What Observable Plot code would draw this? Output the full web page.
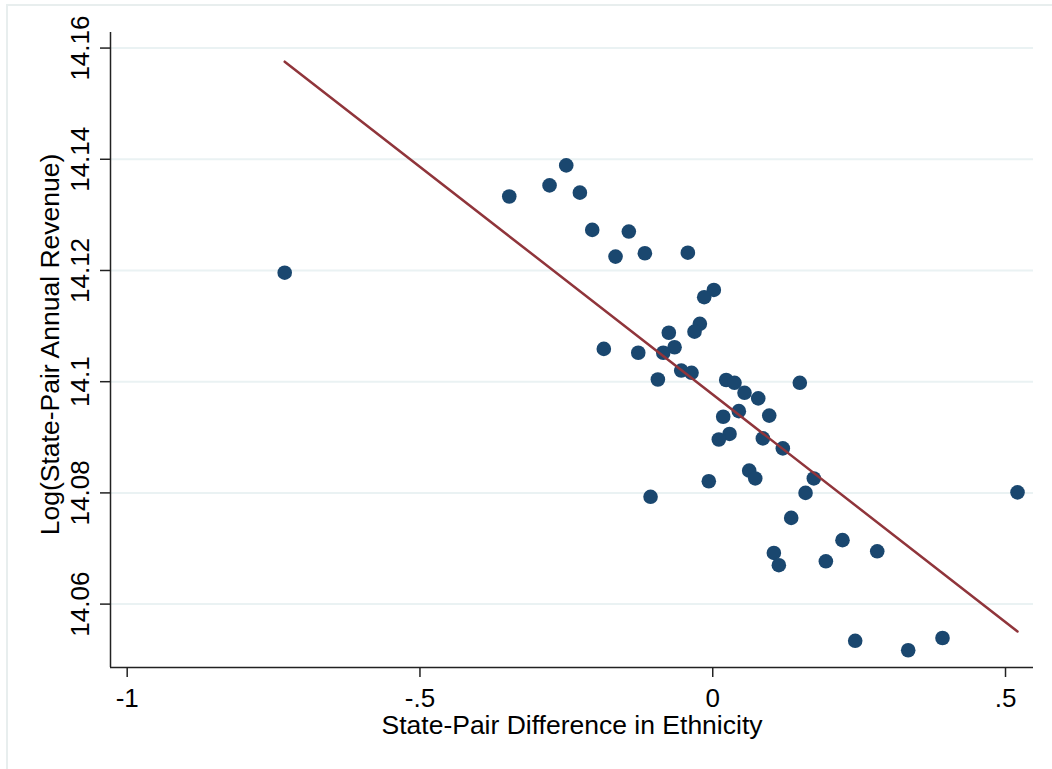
<!DOCTYPE html>
<html><head><meta charset="utf-8">
<script src="https://cdn.jsdelivr.net/npm/d3@7"></script>
<script src="https://cdn.jsdelivr.net/npm/@observablehq/plot@0.6"></script>
<style>
html,body{margin:0;padding:0;background:#fff;}
#wrap{position:relative;width:1052px;height:769px;overflow:hidden;}
#frame{position:absolute;left:6px;top:4px;width:1100px;height:800px;border-left:2px solid #e8eeee;border-top:2px solid #e8eeee;pointer-events:none;}
#wrap svg{position:absolute;left:0;top:0;}
</style></head>
<body><div id="wrap"><div id="frame"></div></div>
<script>
const ethnicityDiff = [-0.731, -0.3475, -0.2787, -0.2502, -0.2269, -0.2058, -0.1433, -0.1660, -0.1159, -0.0425,
  0.0019, -0.0146, -0.0220, -0.0311, -0.0750, -0.0652, -0.0845, -0.1272, -0.1860, -0.0937,
  -0.0538, -0.0362, 0.0230, 0.0372, 0.0543, 0.0777, 0.1487, 0.0179, 0.0446, 0.0965,
  0.0287, 0.0104, 0.0856, 0.1197, 0.0623, 0.0726, -0.0067, -0.1062, 0.1726, 0.1585,
  0.1340, 0.2216, 0.1044, 0.1129, 0.1932, 0.2809, 0.5205, 0.2433, 0.3338, 0.3924];
const logRevenue = [14.1196, 14.1333, 14.1353, 14.1389, 14.1340, 14.1273, 14.1270, 14.1225, 14.1231, 14.1232,
  14.1165, 14.1152, 14.1104, 14.1090, 14.1088, 14.1062, 14.1052, 14.1052, 14.1059, 14.1004,
  14.1020, 14.1016, 14.1003, 14.0998, 14.0980, 14.0970, 14.0998, 14.0937, 14.0947, 14.0939,
  14.0906, 14.0896, 14.0898, 14.0880, 14.0840, 14.0826, 14.0821, 14.0793, 14.0826, 14.0800,
  14.0755, 14.0715, 14.0692, 14.0670, 14.0677, 14.0695, 14.0801, 14.0534, 14.0517, 14.0539];
// fitted line (at its two ends)
const fitX = [-0.731, 0.5205];
const fitY = [14.15755, 14.05509];
const xTicks = [-1, -0.5, 0, 0.5];
const yTicks = [14.06, 14.08, 14.1, 14.12, 14.14, 14.16];
const xDomain = [-1.0285, 0.5478];
const yDomain = [14.0486, 14.1628];
const xTitle = "State-Pair Difference in Ethnicity";
const yTitle = "Log(State-Pair Annual Revenue)";

const data = ethnicityDiff.map((x, i) => ({x, y: logRevenue[i]}));
const fit = fitX.map((x, i) => ({x, y: fitY[i]}));
const fmtX = d => d === 0 ? "0" : String(d).replace("0.", ".");
const fmtY = d => String(+d.toFixed(2));

const chart = Plot.plot({
  width: 1052, height: 769,
  marginLeft: 110, marginRight: 19, marginTop: 32, marginBottom: 102,
  style: {fontFamily: '"Liberation Sans", Arial, sans-serif', fontSize: "26px", background: "transparent", color: "#000", overflow: "visible"},
  x: {domain: xDomain},
  y: {domain: yDomain},
  marks: [
    Plot.gridY(yTicks, {stroke: "#eaf2f3", strokeOpacity: 1, strokeWidth: 2}),
    Plot.ruleX([xDomain[0]], {stroke: "#222", strokeWidth: 1.5}),
    Plot.ruleY([yDomain[0]], {stroke: "#222", strokeWidth: 1.5}),
    Plot.axisX(xTicks, {tickSize: 10, tickPadding: 11, tickFormat: fmtX, stroke: "#222", strokeWidth: 1.5, label: null}),
    Plot.axisY(yTicks, {tickSize: 10, tickPadding: 12, tickRotate: -90, textAnchor: "middle", lineAnchor: "bottom", tickFormat: fmtY, stroke: "#222", strokeWidth: 1.5, label: null}),
    Plot.dot(data, {x: "x", y: "y", r: 7.3, fill: "#1a476f", stroke: null}),
    Plot.line(fit, {x: "x", y: "y", stroke: "#90353b", strokeWidth: 2.5}),
    Plot.text([xTitle], {text: d => d, frameAnchor: "bottom", dy: 66, lineAnchor: "bottom", fontSize: 26.5, fill: "#000"}),
    Plot.text([yTitle], {text: d => d, frameAnchor: "left", dx: -52, dy: -5.5, rotate: -90, textAnchor: "middle", lineAnchor: "bottom", fontSize: 26.5, fill: "#000"})
  ]
});
document.getElementById("wrap").appendChild(chart);
</script>
</body></html>
